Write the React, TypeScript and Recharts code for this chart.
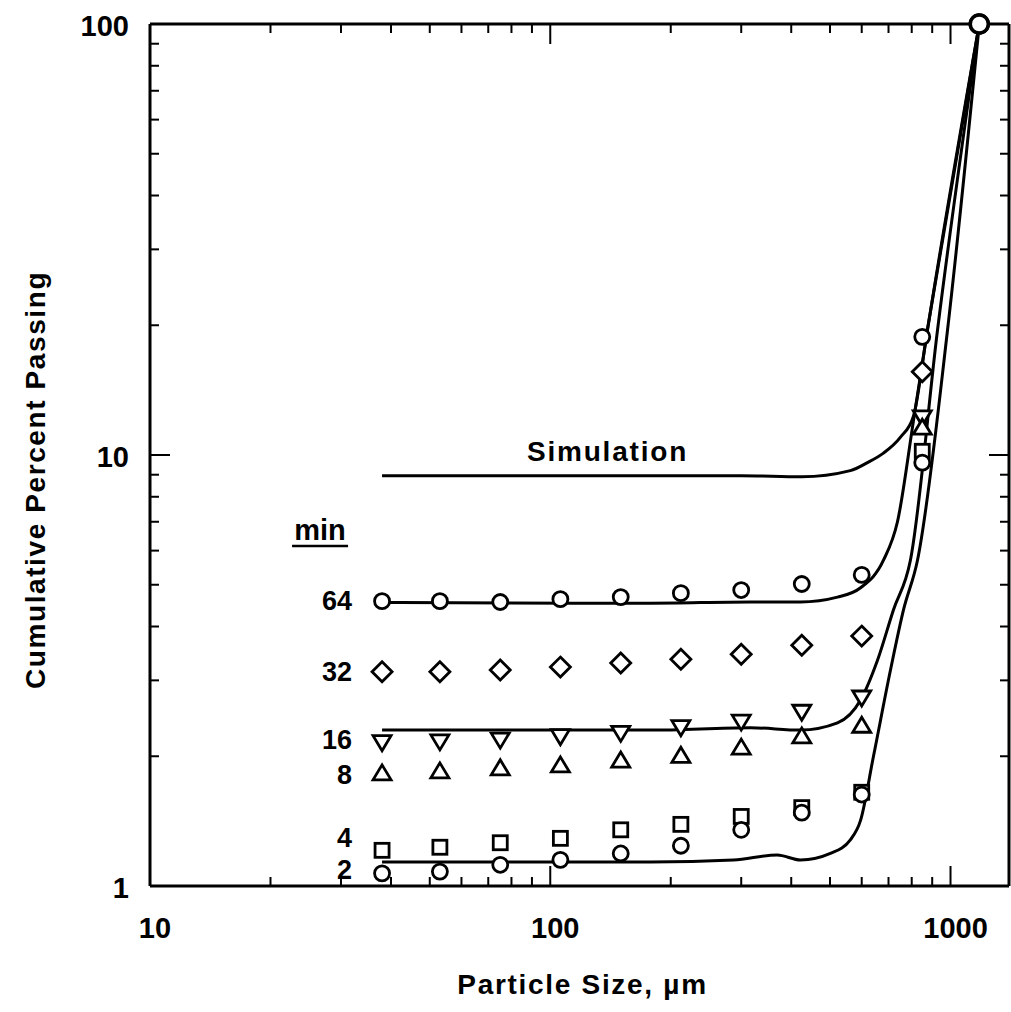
import React from "react";
import {
  ComposedChart,
  Line,
  Scatter,
  XAxis,
  YAxis,
  ReferenceDot,
  Label,
} from "recharts";

// sieve sizes (µm) of the measured points
const sizes = [38, 53, 75, 106, 150, 212, 300, 425, 600, 850, 1180];

// measured cumulative % passing for each grinding time (min)
const min64 = [4.58, 4.58, 4.56, 4.63, 4.68, 4.78, 4.86, 5.02, 5.27, 18.8, 100];
const min32 = [3.14, 3.14, 3.17, 3.22, 3.29, 3.36, 3.45, 3.62, 3.8, 15.6];
const min16 = [2.15, 2.16, 2.18, 2.22, 2.26, 2.33, 2.4, 2.53, 2.73, 12.2];
const min8 = [1.83, 1.85, 1.88, 1.91, 1.96, 2.01, 2.1, 2.23, 2.36, 11.6];
const min4 = [1.21, 1.23, 1.26, 1.29, 1.35, 1.39, 1.45, 1.52, 1.65, 10.2];
const min2 = [1.07, 1.08, 1.12, 1.15, 1.19, 1.24, 1.35, 1.48, 1.63, 9.6, 100];

// simulated curves
const simSizes = [38, 300, 425, 562, 620, 680, 750, 808, 876, 1180];
const simValues = [8.95, 8.95, 8.9, 9.2, 9.6, 10.1, 11.0, 12.3, 19.6, 100];
const fit64Sizes = [38, 178, 316, 422, 522, 596, 680, 737, 808, 876, 1180];
const fit64Values = [4.55, 4.53, 4.56, 4.56, 4.68, 4.92, 5.7, 7.0, 12.0, 19.5, 100];
const fit16Sizes = [38, 178, 316, 422, 522, 596, 657, 720, 794, 928, 1180];
const fit16Values = [2.3, 2.3, 2.33, 2.3, 2.39, 2.7, 3.34, 4.37, 5.7, 19.5, 100];
const fit2Sizes = [38, 178, 287, 369, 422, 501, 562, 596, 642, 708, 763, 827, 983, 1180];
const fit2Values = [1.137, 1.137, 1.149, 1.18, 1.149, 1.19, 1.28, 1.42, 2.0, 3.17, 4.37, 5.7, 19.5, 100];

// axis ticks
const xTicks = [10, 20, 30, 40, 50, 60, 70, 80, 90, 100, 200, 300, 400, 500, 600, 700, 800, 900, 1000];
const yTicks = [1, 2, 3, 4, 5, 6, 7, 8, 9, 10, 20, 30, 40, 50, 60, 70, 80, 90, 100];
const xLabels = [10, 100, 1000];
const yLabels = [1, 10, 100];

const timeLabels = ["64", "32", "16", "8", "4", "2"];
const labelNudge = [0, 0, -3, 2, -12, -3]; // px, keeps 4 and 2 apart

const pts = (xs: number[], ys: number[]) => ys.map((y, i) => ({ x: xs[i], y }));

const FONT = '"Liberation Sans", Arial, Helvetica, sans-serif';
const MAJOR = 20;
const MINOR = 9;

const textStyle = { fontFamily: FONT, fontWeight: 700, fill: "#000" };

function Marker({ cx, cy, kind, big }: any) {
  const s = { fill: "#fff", stroke: "#000", strokeWidth: 2.8 };
  if (kind === "circle")
    return <circle cx={cx} cy={cy} r={big ? 9 : 7.5} {...s} strokeWidth={big ? 3.5 : 2.8} />;
  if (kind === "diamond")
    return (
      <polygon
        points={`${cx},${cy - 10} ${cx + 10},${cy} ${cx},${cy + 10} ${cx - 10},${cy}`}
        {...s}
      />
    );
  if (kind === "up")
    return <polygon points={`${cx},${cy - 8} ${cx + 9},${cy + 7} ${cx - 9},${cy + 7}`} {...s} />;
  if (kind === "down")
    return <polygon points={`${cx - 9},${cy - 7} ${cx + 9},${cy - 7} ${cx},${cy + 8}`} {...s} />;
  return <rect x={cx - 7} y={cy - 7} width={14} height={14} {...s} />;
}

const series = [
  { values: min64, kind: "circle" },
  { values: min32, kind: "diamond" },
  { values: min16, kind: "down" },
  { values: min8, kind: "up" },
  { values: min4, kind: "square" },
  { values: min2, kind: "circle" },
];

const curves = [
  { xs: simSizes, ys: simValues },
  { xs: fit64Sizes, ys: fit64Values },
  { xs: fit16Sizes, ys: fit16Values },
  { xs: fit2Sizes, ys: fit2Values },
];

// ticks are drawn by hand so they can point into the plot
function BottomTick({ x, y, payload }: any) {
  const major = xLabels.includes(payload.value);
  return (
    <g>
      <line x1={x} x2={x} y1={y} y2={y - (major ? MAJOR : MINOR)} stroke="#000" strokeWidth={2} />
      {major && (
        <text x={x + 5} y={y + 42} textAnchor="middle" dominantBaseline="central" fontSize={29} {...textStyle}>
          {payload.value}
        </text>
      )}
    </g>
  );
}

function TopTick({ x, y, payload }: any) {
  const major = xLabels.includes(payload.value);
  return <line x1={x} x2={x} y1={y} y2={y + (major ? MAJOR : MINOR)} stroke="#000" strokeWidth={2} />;
}

function LeftTick({ x, y, payload }: any) {
  const major = yLabels.includes(payload.value);
  return (
    <g>
      <line x1={x} x2={x + (major ? MAJOR : MINOR)} y1={y} y2={y} stroke="#000" strokeWidth={2} />
      {major && (
        <text x={x - 21} y={y + 2} textAnchor="end" dominantBaseline="central" fontSize={29} {...textStyle}>
          {payload.value}
        </text>
      )}
    </g>
  );
}

function RightTick({ x, y, payload }: any) {
  const major = yLabels.includes(payload.value);
  return <line x1={x} x2={x - (major ? MAJOR : MINOR)} y1={y} y2={y} stroke="#000" strokeWidth={2} />;
}

function XTitle({ viewBox }: any) {
  return (
    <text
      x={viewBox.x + viewBox.width / 2 + 3}
      y={viewBox.y + 108}
      textAnchor="middle"
      fontSize={28}
      letterSpacing={1.7}
      {...textStyle}
    >
      Particle Size, µm
    </text>
  );
}

function YTitle({ viewBox }: any) {
  const cx = viewBox.x + 35;
  const cy = viewBox.y + viewBox.height / 2 + 25;
  return (
    <text
      transform={`translate(${cx},${cy}) rotate(-90)`}
      textAnchor="middle"
      dominantBaseline="central"
      fontSize={28}
      letterSpacing={1.6}
      {...textStyle}
    >
      Cumulative Percent Passing
    </text>
  );
}

export default function App() {
  return (
    <div style={{ position: "absolute", left: 0, top: 0, background: "#fff" }}>
      <ComposedChart width={1011} height={1012} margin={{ top: 23, right: 1, left: 0, bottom: 0 }}>
        <XAxis
          dataKey="x"
          type="number"
          scale="log"
          domain={[10, 1400]}
          ticks={xTicks}
          interval={0}
          height={126}
          tickSize={0}
          tickMargin={0}
          tickLine={false}
          axisLine={{ stroke: "#000", strokeWidth: 3 }}
          tick={(p: any) => <BottomTick {...p} />}
        >
          <Label content={(p: any) => <XTitle {...p} />} />
        </XAxis>
        {/* mirrored axes need a non-zero size or they are not drawn */}
        <XAxis
          xAxisId="top"
          orientation="top"
          dataKey="x"
          type="number"
          scale="log"
          domain={[10, 1400]}
          ticks={xTicks}
          interval={0}
          height={1}
          tickSize={0}
          tickMargin={0}
          tickLine={false}
          axisLine={{ stroke: "#000", strokeWidth: 3 }}
          tick={(p: any) => <TopTick {...p} />}
        />
        <YAxis
          dataKey="y"
          type="number"
          scale="log"
          domain={[1, 100]}
          ticks={yTicks}
          interval={0}
          width={150}
          tickSize={0}
          tickMargin={0}
          tickLine={false}
          axisLine={{ stroke: "#000", strokeWidth: 3 }}
          tick={(p: any) => <LeftTick {...p} />}
        >
          <Label content={(p: any) => <YTitle {...p} />} />
        </YAxis>
        <YAxis
          yAxisId="right"
          orientation="right"
          dataKey="y"
          type="number"
          scale="log"
          domain={[1, 100]}
          ticks={yTicks}
          interval={0}
          width={1}
          tickSize={0}
          tickMargin={0}
          tickLine={false}
          axisLine={{ stroke: "#000", strokeWidth: 3 }}
          tick={(p: any) => <RightTick {...p} />}
        />

        {/* invisible series so the mirrored top/right axes get drawn */}
        <Scatter
          xAxisId="top"
          yAxisId="right"
          data={pts(sizes, min64)}
          dataKey="y"
          isAnimationActive={false}
          shape={() => <g />}
        />

        {curves.map((c, i) => (
          <Line
            key={`c${i}`}
            data={pts(c.xs, c.ys)}
            dataKey="y"
            type="monotone"
            stroke="#000"
            strokeWidth={3}
            dot={false}
            activeDot={false}
            isAnimationActive={false}
          />
        ))}

        {series.map((s, i) => (
          <Scatter
            key={`s${i}`}
            data={pts(sizes, s.values)}
            dataKey="y"
            isAnimationActive={false}
            shape={(p: any) => (
              <Marker cx={p.cx} cy={p.cy} kind={s.kind} big={p.payload && p.payload.y >= 100} />
            )}
          />
        ))}

        {series.map((s, i) => (
          <ReferenceDot
            key={`l${i}`}
            x={sizes[0]}
            y={s.values[0]}
            r={0}
            shape={(p: any) => (
              <text
                x={p.cx - 30}
                y={p.cy + labelNudge[i]}
                textAnchor="end"
                dominantBaseline="central"
                fontSize={27}
                {...textStyle}
              >
                {timeLabels[i]}
              </text>
            )}
          />
        ))}

        <ReferenceDot
          x={26.6}
          y={6.7}
          r={0}
          shape={(p: any) => (
            <g>
              <text x={p.cx} y={p.cy} textAnchor="middle" dominantBaseline="central" fontSize={29} {...textStyle}>
                min
              </text>
              <line x1={p.cx - 28} x2={p.cx + 28} y1={p.cy + 16} y2={p.cy + 16} stroke="#000" strokeWidth={2.5} />
            </g>
          )}
        />
        <ReferenceDot
          x={139}
          y={simValues[0]}
          r={0}
          shape={(p: any) => (
            <text
              x={p.cx}
              y={p.cy - 24}
              textAnchor="middle"
              dominantBaseline="central"
              fontSize={28}
              letterSpacing={1.8}
              {...textStyle}
            >
              Simulation
            </text>
          )}
        />
      </ComposedChart>
    </div>
  );
}
